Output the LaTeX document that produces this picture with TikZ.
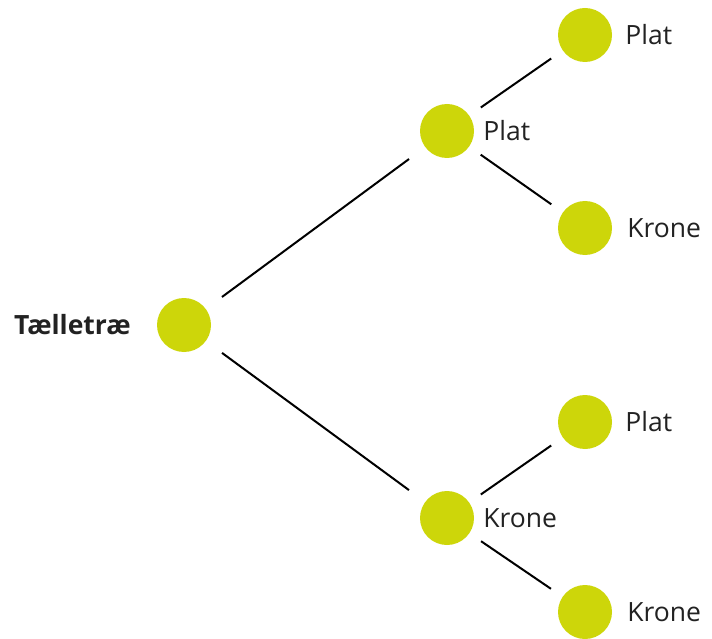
\documentclass[tikz,border=0pt]{standalone}
\usepackage{fontspec}
\setmainfont{Open Sans}
\usepackage{xcolor}
\usetikzlibrary{positioning}

\definecolor{coinfill}{RGB}{205,214,10}
\definecolor{inktext}{RGB}{34,34,34}

\begin{document}
\begin{tikzpicture}[
  x=1pt, y=-1pt,
  on grid,
  coin/.style={circle, fill=coinfill, minimum size=54pt, inner sep=0pt},
  lbl/.style={font=\fontsize{26.5}{31}\selectfont, text=inktext, anchor=west, inner sep=0pt},
  edge/.style={line width=2pt, black, shorten <=#1, shorten >=#1}
]
  \useasboundingbox (0,0) rectangle (712,639);

  \node[coin] (root) at (184,325) {};
  \node[coin, above right=194pt and 263pt of root] (plat)  {};
  \node[coin, below right=193pt and 263pt of root] (krone) {};
  \node[coin, above right=96pt and 138pt of plat]  (pp) {};
  \node[coin, below right=97pt and 138pt of plat]  (pk) {};
  \node[coin, above right=96pt and 138pt of krone] (kp) {};
  \node[coin, below right=94pt and 138pt of krone] (kk) {};

  \node[lbl, font=\fontsize{26.5}{31}\selectfont\bfseries, anchor=east] (title) at (131,325) {Tælletræ};
  \node[lbl, right=9pt of plat.east]  (platlbl)  {Plat};
  \node[lbl, right=9pt of krone.east] (kronelbl) {Krone};
  \node[lbl, right=13pt of pp.east] (pplbl) {Plat};
  \node[lbl, right=15pt of pk.east] (pklbl) {Krone};
  \node[lbl, right=13pt of kp.east] (kplbl) {Plat};
  \node[lbl, right=15pt of kk.east] (kklbl) {Krone};

  \draw[edge=20pt] (root) -- (plat);
  \draw[edge=20pt] (root) -- (krone);
  \draw[edge=14pt] (plat) -- (pp);
  \draw[edge=14pt] (plat) -- (pk);
  \draw[edge=14pt] (krone) -- (kp);
  \draw[edge=14pt] (krone) -- (kk);
\end{tikzpicture}
\end{document}
